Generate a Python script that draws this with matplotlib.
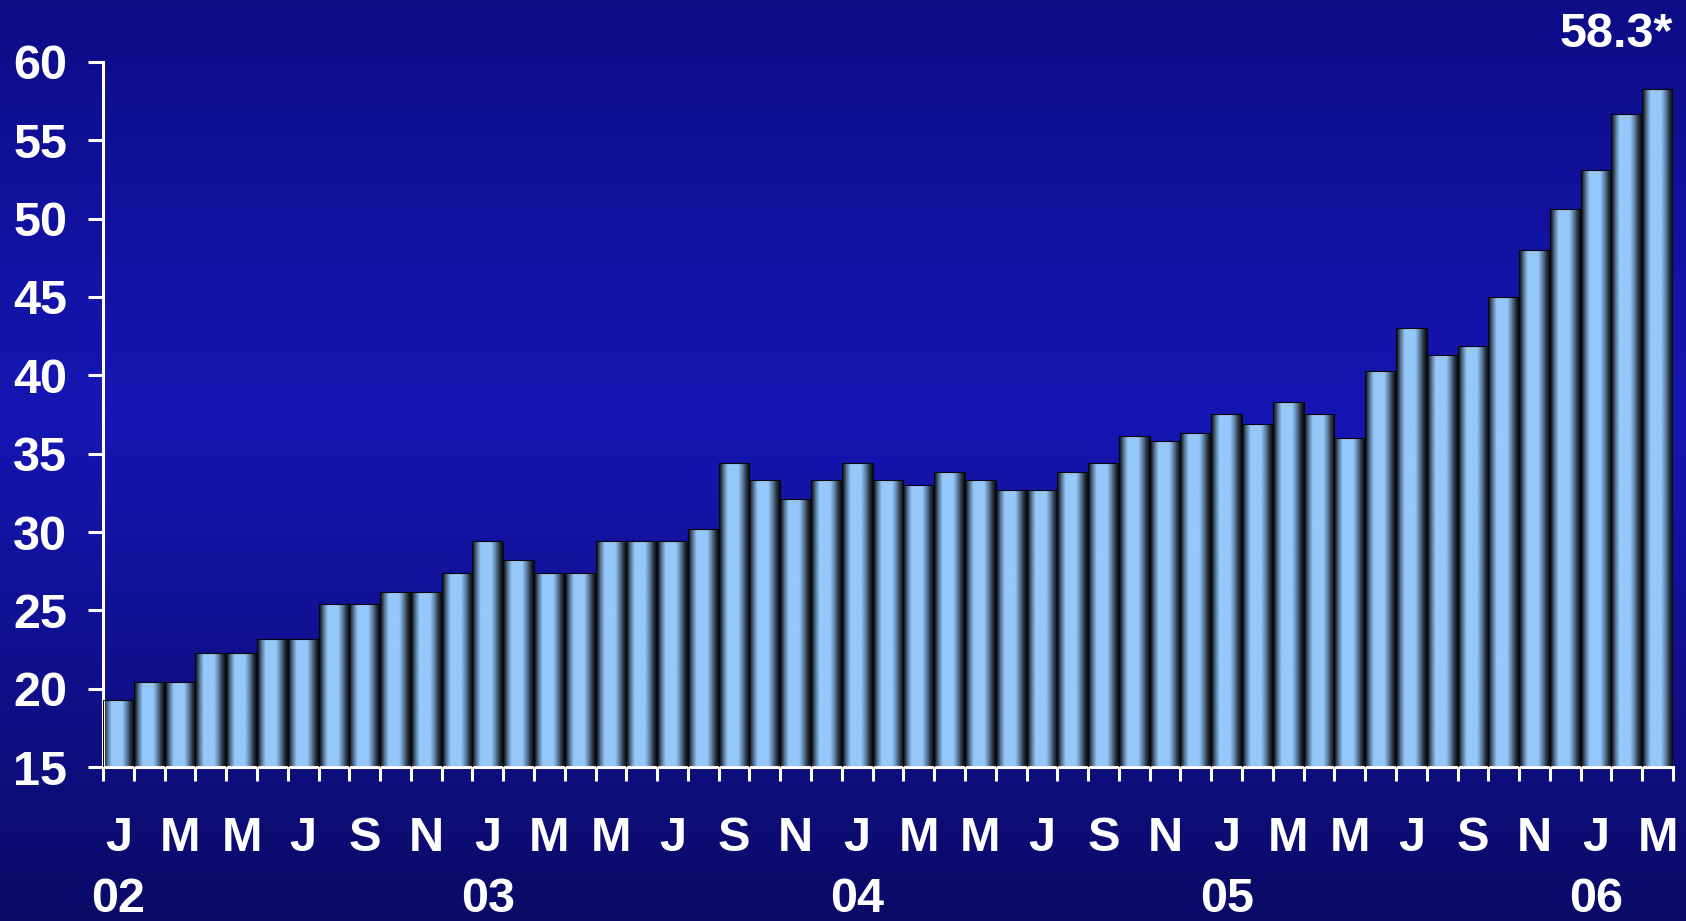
import numpy as np
import matplotlib
matplotlib.use("Agg")
import matplotlib.pyplot as plt
from matplotlib.colors import LinearSegmentedColormap

# monthly values, Jan 2002 .. Mar 2006
values = [19.3, 20.4, 20.4, 22.3, 22.3, 23.2, 23.2, 25.4, 25.4, 26.2, 26.2, 27.4,
          29.4, 28.2, 27.4, 27.4, 29.4, 29.4, 29.4, 30.2, 34.4, 33.3, 32.1, 33.3,
          34.4, 33.3, 33.0, 33.8, 33.3, 32.7, 32.7, 33.8, 34.4, 36.1, 35.8, 36.3,
          37.5, 36.9, 38.3, 37.5, 36.0, 40.3, 43.0, 41.3, 41.9, 45.0, 48.0, 50.6,
          53.1, 56.7, 58.3]
month_letters = ["J", "M", "M", "J", "S", "N"] * 4 + ["J", "M"]
years = ["02", "03", "04", "05", "06"]
y_ticks = [15, 20, 25, 30, 35, 40, 45, 50, 55, 60]
last_label = "58.3*"

plt.rcParams['font.family'] = ['Liberation Sans', 'DejaVu Sans']
plt.rcParams['font.weight'] = 'bold'

fig = plt.figure(figsize=(16.86, 9.21), dpi=100)

# background gradient (dark top, brighter middle, dark bottom)
bg = fig.add_axes([0, 0, 1, 1], zorder=0)
bg_cmap = LinearSegmentedColormap.from_list(
    "bg", [(0, '#0d0d86'), (0.45, '#1616b4'), (1, '#0a0a66')])
bg.imshow(np.linspace(0, 1, 256).reshape(-1, 1), cmap=bg_cmap,
          aspect='auto', extent=(0, 1, 0, 1))
bg.axis('off')

ax = fig.add_axes([0.0611, 0.1672, 0.9312, 0.7655], zorder=1)
ax.patch.set_alpha(0)

# cylinder-like shading across each bar
bar_cmap = LinearSegmentedColormap.from_list("bar", [
    (0.0, '#0b0d12'), (0.06, '#28323f'), (0.15, '#5a7a9c'), (0.28, '#96c8fa'),
    (0.62, '#96c8fa'), (0.78, '#5a7a9c'), (0.9, '#28323f'), (1.0, '#080a0e')])
grad = np.linspace(0, 1, 64).reshape(1, -1)

x = np.arange(len(values))
base = y_ticks[0]
bars = ax.bar(x, np.array(values) - base, bottom=base, width=1.0,
              facecolor='none', edgecolor='#05070a', linewidth=0.8, zorder=3)
for b in bars:
    x0, y0 = b.get_x(), b.get_y()
    im = ax.imshow(grad, cmap=bar_cmap, aspect='auto', interpolation='bilinear',
                   extent=(x0, x0 + b.get_width(), y0, y0 + b.get_height()), zorder=2)
    im.set_clip_path(b)

ax.set_xlim(-0.5, len(values) - 0.5)
ax.set_ylim(y_ticks[0], y_ticks[-1])

for side in ['top', 'right']:
    ax.spines[side].set_visible(False)
for side in ['left', 'bottom']:
    ax.spines[side].set_color('white')
    ax.spines[side].set_linewidth(2.2)

ax.set_yticks(y_ticks)
ax.tick_params(axis='y', colors='white', length=10.8, width=2.2, pad=15, labelsize=35)
ax.set_xticks(np.arange(len(values) + 1) - 0.5)
ax.set_xticklabels([])
ax.tick_params(axis='x', colors='white', length=10, width=2.2, direction='out')

trans = ax.get_xaxis_transform()
for i, m in enumerate(month_letters):
    ax.text(2 * i, -0.119, m, transform=trans, ha='center', va='baseline',
            color='white', fontsize=35, fontweight='bold')
for i, yr in enumerate(years):
    ax.text(12 * i, -0.2057, yr, transform=trans, ha='center', va='baseline',
            color='white', fontsize=35, fontweight='bold')

ax.text(1.0, 1.021, last_label, transform=ax.transAxes, ha='right', va='baseline',
        color='white', fontsize=35, fontweight='bold')

fig.savefig("out.png", dpi=100)
